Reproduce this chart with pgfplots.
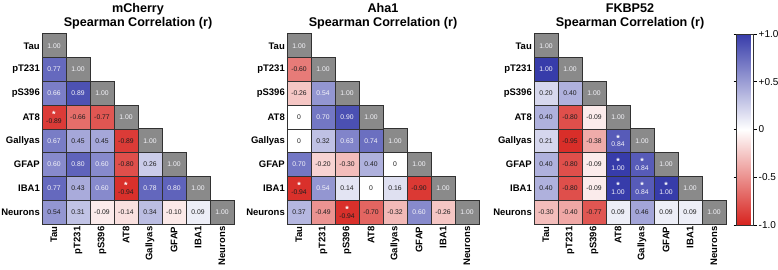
\documentclass[border=0pt]{standalone}
\usepackage{pgfplots}
\pgfplotsset{compat=1.18}
\usepackage{pgfplotstable}
\usepackage{fontspec}
\setmainfont{Liberation Sans}

\definecolor{diaggray}{RGB}{138,138,138}
\definecolor{cellline}{RGB}{50,50,50}
\definecolor{txtd}{RGB}{30,30,30}
\definecolor{txtw}{RGB}{245,245,250}

\newcommand\titfont{\fontsize{12.6}{14}\selectfont\bfseries}
\newcommand\lblfont{\fontsize{9.5}{11}\selectfont\bfseries}
\newcommand\numfont{\fontsize{6.8}{7}\selectfont}

% x = column (0=Tau ... 7=Neurons), y = 7 - row (row 0 = Tau at top)
% tc: 1 = white text, 0 = dark text; st: 1 = significance star
\pgfplotstableread{
x y r tc st
0 6 0.77 1 0
0 5 0.66 1 0
1 5 0.89 1 0
0 4 -0.89 0 1
1 4 -0.66 0 0
2 4 -0.77 0 0
0 3 0.67 1 0
1 3 0.45 0 0
2 3 0.45 0 0
3 3 -0.89 0 0
0 2 0.60 1 0
1 2 0.80 1 0
2 2 0.60 1 0
3 2 -0.80 0 0
4 2 0.26 0 0
0 1 0.77 1 0
1 1 0.43 0 0
2 1 0.60 1 0
3 1 -0.94 0 1
4 1 0.78 1 0
5 1 0.80 1 0
0 0 0.54 0 0
1 0 0.31 0 0
2 0 -0.09 0 0
3 0 -0.14 0 0
4 0 0.34 0 0
5 0 -0.10 0 0
6 0 0.09 0 0
}\mcherry

\pgfplotstableread{
x y r tc st
0 6 -0.60 0 0
0 5 -0.26 0 0
1 5 0.54 1 0
0 4 0 0 0
1 4 0.70 1 0
2 4 0.90 1 0
0 3 0 0 0
1 3 0.32 0 0
2 3 0.63 1 0
3 3 0.74 1 0
0 2 0.70 1 0
1 2 -0.20 0 0
2 2 -0.30 0 0
3 2 0.40 0 0
4 2 0 0 0
0 1 -0.94 0 1
1 1 0.54 1 0
2 1 0.14 0 0
3 1 0 0 0
4 1 0.16 0 0
5 1 -0.90 0 0
0 0 0.37 0 0
1 0 -0.49 0 0
2 0 -0.94 0 1
3 0 -0.70 0 0
4 0 -0.32 0 0
5 0 0.60 1 0
6 0 -0.26 0 0
}\ahaone

\pgfplotstableread{
x y r tc st
0 6 1.00 1 0
0 5 0.20 0 0
1 5 0.40 0 0
0 4 0.40 0 0
1 4 -0.80 0 0
2 4 -0.09 0 0
0 3 0.21 0 0
1 3 -0.95 0 0
2 3 -0.38 0 0
3 3 0.84 1 1
0 2 0.40 0 0
1 2 -0.80 0 0
2 2 -0.09 0 0
3 2 1.00 1 1
4 2 0.84 1 1
0 1 0.40 0 0
1 1 -0.80 0 0
2 1 -0.09 0 0
3 1 1.00 1 1
4 1 0.84 1 1
5 1 1.00 1 1
0 0 -0.30 0 0
1 0 -0.40 0 0
2 0 -0.77 0 0
3 0 0.09 0 0
4 0 0.46 0 0
5 0 0.09 0 0
6 0 0.09 0 0
}\fkbp

\pgfplotsset{
  hm/.style={
    scale only axis, width=192pt, height=190pt,
    anchor=south west,
    xmin=-0.5, xmax=7.5, ymin=-0.5, ymax=7.5,
    axis line style={draw=none},
    major tick length=0pt,
    xtick={0,...,7}, ytick={0,...,7},
    xticklabels={Tau,pT231,pS396,AT8,Gallyas,GFAP,IBA1,Neurons},
    yticklabels={Neurons,IBA1,GFAP,Gallyas,AT8,pS396,pT231,Tau},
    xticklabel style={rotate=90, anchor=east, font=\lblfont, inner sep=2.5pt},
    yticklabel style={font=\lblfont, inner sep=2pt},
    clip=false,
    colormap={rb}{rgb255(0cm)=(215,35,30); rgb255(1cm)=(255,255,255); rgb255(2cm)=(55,60,170)},
    point meta min=-1, point meta max=1,
    title style={at={(0.5,1)}, anchor=south, yshift=-1pt, inner sep=0pt, align=center, font=\titfont},
  }
}

\newcommand{\cells}[1]{%
  \addplot[scatter, only marks, mark=square*, mark size=12pt,
    point meta=explicit,
    scatter/use mapped color={draw=cellline, fill=mapped color, line width=0.5pt}]
    table[x=x, y=y, meta=r]{#1};
  \addplot[only marks, mark=square*, mark size=12pt,
    mark options={fill=diaggray, draw=cellline, line width=0.8pt},
    nodes near coords={1.00},
    every node near coord/.append style={text=txtw, anchor=center, font=\numfont, inner sep=0pt}]
    coordinates {(0,7)(1,6)(2,5)(3,4)(4,3)(5,2)(6,1)(7,0)};
  \addplot[draw=none, mark=none, point meta=explicit symbolic,
    visualization depends on={\thisrow{tc}\as\txtc},
    visualization depends on={\thisrow{st}\as\starf},
    nodes near coords={\ifdim\txtc pt>0.5pt\color{txtw}\else\color{txtd}\fi
      \ifdim\starf pt>0.5pt\shortstack{\textcolor{white}{\fontsize{9}{8}\selectfont\bfseries *}\\[-2pt]\pgfplotspointmeta}\else\pgfplotspointmeta\fi},
    every node near coord/.append style={anchor=center, font=\numfont, inner sep=0pt}]
    table[x=x, y=y, meta=r]{#1};
  \addplot[cellline, line width=1pt, mark=none] coordinates {
    (-0.5,7.5)(0.5,7.5)(0.5,6.5)(1.5,6.5)(1.5,5.5)(2.5,5.5)(2.5,4.5)(3.5,4.5)
    (3.5,3.5)(4.5,3.5)(4.5,2.5)(5.5,2.5)(5.5,1.5)(6.5,1.5)(6.5,0.5)(7.5,0.5)
    (7.5,-0.5)(-0.5,-0.5)(-0.5,7.5)};
}

\begin{document}
\begin{tikzpicture}
\path[use as bounding box] (0,0) rectangle (778pt,269pt);

\begin{axis}[hm, at={(42pt,45pt)}, title={mCherry\\Spearman Correlation (r)}]
\cells{\mcherry}
\end{axis}

\begin{axis}[hm, at={(287pt,45pt)}, title={Aha1\\Spearman Correlation (r)}]
\cells{\ahaone}
\end{axis}

\begin{axis}[hm, at={(534pt,45pt)}, title={FKBP52\\Spearman Correlation (r)},
  colorbar,
  colorbar style={
    at={(parent axis.north east)}, anchor=north west, xshift=2pt,
    width=17pt, height=191pt,
    axis line style={draw=cellline, line width=0.5pt},
    ytick={-1,-0.5,0,0.5,1},
    yticklabels={-1.0,-0.5,0,+0.5,+1.0},
    yticklabel style={font=\fontsize{10}{12}\selectfont, inner sep=2pt},
    major tick length=3pt,
    tick style={black, line width=0.6pt},
    tick align=outside,
    yticklabel pos=right,
  }]
\cells{\fkbp}
\end{axis}
\end{tikzpicture}
\end{document}
